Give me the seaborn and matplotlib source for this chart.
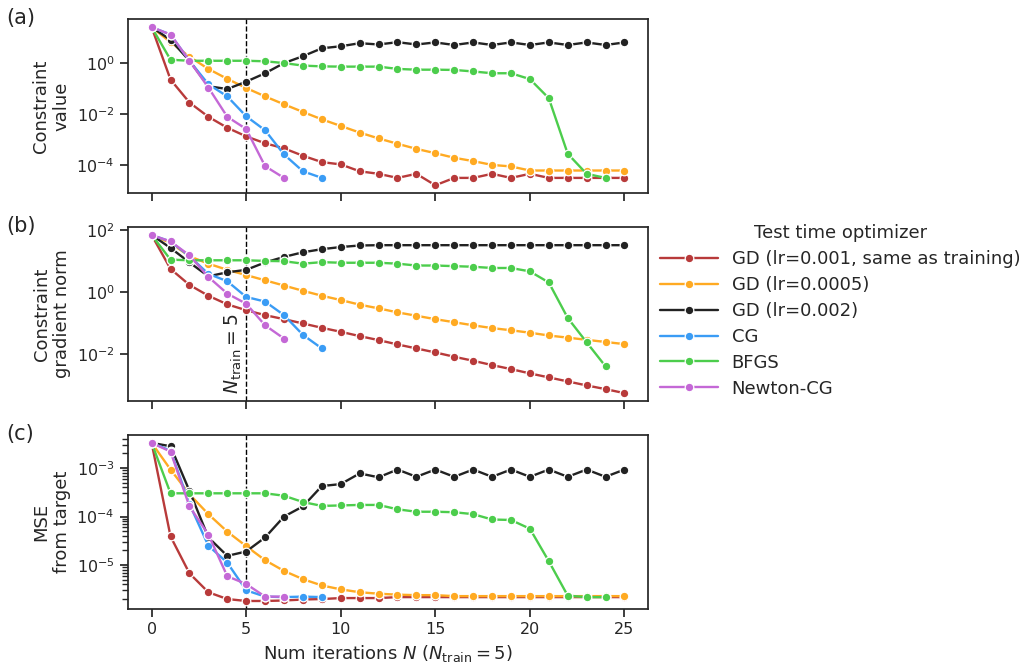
import numpy as np
import pandas as pd
import matplotlib
matplotlib.use("Agg")
import matplotlib.pyplot as plt
import seaborn as sns

# ---------------- data (log10 of values) ----------------
optimizers = ["GD (lr=0.001, same as training)", "GD (lr=0.0005)", "GD (lr=0.002)",
              "CG", "BFGS", "Newton-CG"]
colors = ["#b83a3a", "#ffaa22", "#222222", "#3a9cf5", "#4ccd4c", "#c468d6"]

# panel (a): constraint value
a_gd001 = [1.42, -0.64, -1.54, -2.10, -2.53, -2.87, -3.14, -3.34, -3.63, -3.88, -3.97, -4.24, -4.34,
           -4.50, -4.34, -4.79, -4.50, -4.50, -4.34, -4.50, -4.34, -4.50, -4.50, -4.50, -4.50, -4.50]
a_gd0005 = [1.42, 0.83, 0.26, -0.22, -0.61, -0.97, -1.30, -1.61, -1.91, -2.20, -2.46, -2.72, -2.95,
            -3.16, -3.36, -3.53, -3.71, -3.84, -3.99, -4.05, -4.21, -4.21, -4.21, -4.21, -4.21, -4.21]
a_gd002 = [1.42, 0.92, 0.10, -0.90, -1.01, -0.72, -0.39, 0.01, 0.28, 0.59, 0.67, 0.79, 0.74,
           0.83, 0.74, 0.82, 0.72, 0.82, 0.72, 0.82, 0.72, 0.82, 0.72, 0.82, 0.72, 0.82]
a_cg = [1.42, 1.13, 0.10, -0.82, -1.30, -2.08, -2.63, -3.58, -4.24, -4.50]
a_bfgs = [1.42, 0.14, 0.10, 0.10, 0.10, 0.10, 0.08, 0.01, -0.09, -0.12, -0.13, -0.13, -0.13,
          -0.22, -0.25, -0.25, -0.26, -0.32, -0.39, -0.39, -0.62, -1.37, -3.55, -4.34, -4.50]
a_ncg = [1.42, 1.13, 0.10, -0.95, -2.10, -2.58, -4.04, -4.50]

# panel (b): constraint gradient norm
b_gd001 = [1.85, 0.75, 0.23, -0.12, -0.40, -0.59, -0.75, -0.88, -1.02, -1.16, -1.29, -1.43, -1.56,
           -1.70, -1.83, -1.96, -2.10, -2.23, -2.37, -2.50, -2.64, -2.77, -2.90, -3.03, -3.15, -3.28]
b_gd0005 = [1.85, 1.59, 1.16, 0.92, 0.72, 0.55, 0.38, 0.21, 0.04, -0.12, -0.26, -0.41, -0.53,
            -0.66, -0.77, -0.88, -0.98, -1.08, -1.17, -1.24, -1.32, -1.41, -1.48, -1.55, -1.62, -1.69]
b_gd002 = [1.85, 1.43, 0.96, 0.51, 0.64, 0.72, 0.96, 1.14, 1.29, 1.39, 1.46, 1.51, 1.52,
           1.52, 1.52, 1.52, 1.52, 1.52, 1.52, 1.52, 1.52, 1.52, 1.52, 1.52, 1.52, 1.52]
b_cg = [1.85, 1.64, 1.16, 0.59, 0.35, -0.16, -0.31, -0.75, -1.39, -1.83]
b_bfgs = [1.85, 1.05, 1.03, 1.03, 1.03, 1.03, 1.01, 1.00, 0.92, 0.97, 0.95, 0.95, 0.95,
          0.92, 0.86, 0.86, 0.84, 0.82, 0.78, 0.78, 0.67, 0.31, -0.84, -1.63, -2.41]
b_ncg = [1.85, 1.64, 1.19, 0.49, -0.05, -0.38, -1.08, -1.51]

# panel (c): MSE from target
c_gd001 = [-2.48, -4.41, -5.17, -5.56, -5.70, -5.74, -5.74, -5.73, -5.71, -5.70, -5.68, -5.68, -5.68,
           -5.66, -5.66, -5.66, -5.66, -5.66, -5.66, -5.66, -5.66, -5.66, -5.66, -5.66, -5.66, -5.66]
c_gd0005 = [-2.48, -3.03, -3.54, -3.95, -4.31, -4.61, -4.90, -5.12, -5.29, -5.42, -5.50, -5.56, -5.59,
            -5.61, -5.62, -5.62, -5.64, -5.64, -5.64, -5.64, -5.64, -5.64, -5.64, -5.64, -5.64, -5.64]
c_gd002 = [-2.48, -2.55, -3.47, -4.43, -4.81, -4.72, -4.43, -4.00, -3.79, -3.37, -3.33, -3.11, -3.19,
           -3.03, -3.18, -3.03, -3.18, -3.03, -3.18, -3.03, -3.18, -3.03, -3.18, -3.03, -3.18, -3.03]
c_cg = [-2.48, -2.64, -3.74, -4.60, -4.95, -5.52, -5.65, -5.66, -5.65, -5.66]
c_bfgs = [-2.48, -3.52, -3.52, -3.52, -3.52, -3.52, -3.52, -3.57, -3.70, -3.78, -3.77, -3.76, -3.76,
          -3.85, -3.90, -3.90, -3.91, -3.95, -4.06, -4.07, -4.25, -4.92, -5.63, -5.66, -5.66]
c_ncg = [-2.48, -2.66, -3.79, -4.37, -5.23, -5.39, -5.65, -5.65]

panels = [
    ("(a)", "Constraint\nvalue", [a_gd001, a_gd0005, a_gd002, a_cg, a_bfgs, a_ncg]),
    ("(b)", "Constraint\ngradient norm", [b_gd001, b_gd0005, b_gd002, b_cg, b_bfgs, b_ncg]),
    ("(c)", "MSE\nfrom target", [c_gd001, c_gd0005, c_gd002, c_cg, c_bfgs, c_ncg]),
]
n_train = 5

# ---------------- plotting ----------------
sns.set_theme(style="ticks")
plt.rcParams["font.family"] = ["DejaVu Sans"]
plt.rcParams["mathtext.fontset"] = "dejavusans"

fig, axes = plt.subplots(3, 1, figsize=(10.19, 6.64), dpi=100, sharex=True)
fig.subplots_adjust(left=0.1256, right=0.636, top=0.971, bottom=0.083, hspace=0.195)

palette = dict(zip(optimizers, colors))
for ax, (tag, ylabel, series) in zip(axes, panels):
    rows = []
    for name, vals in zip(optimizers, series):
        for i, v in enumerate(vals):
            rows.append({"N": i, "value": 10.0 ** v, "opt": name})
    df = pd.DataFrame(rows)
    sns.lineplot(data=df, x="N", y="value", hue="opt", hue_order=optimizers,
                 palette=palette, marker="o", markersize=6.2, markeredgecolor="white",
                 markeredgewidth=0.9, linewidth=1.7, ax=ax, legend=True)
    ax.set_yscale("log")
    ax.axvline(n_train, color="black", linestyle="--", linewidth=1.0, zorder=0)
    ax.set_ylabel(ylabel, fontsize=13)
    ax.set_xlabel("")
    ax.tick_params(labelsize=11.5)
    ax.text(-0.235, 1.065, tag, transform=ax.transAxes, fontsize=15, va="top", ha="left")

handles, labels = axes[0].get_legend_handles_labels()
for ax in axes:
    ax.get_legend().remove()

axes[1].text(n_train - 0.1, 0.04, r"$N_{\mathrm{train}} = 5$", rotation=90,
             transform=axes[1].get_xaxis_transform(), ha="right", va="bottom", fontsize=13.5)

axes[2].set_xlabel(r"Num iterations $N$ ($N_{\mathrm{train}} = 5$)", fontsize=13)
axes[2].set_xticks([0, 5, 10, 15, 20, 25])

fig.legend(handles, labels, title="Test time optimizer", loc="upper left",
           bbox_to_anchor=(0.632, 0.687), frameon=False, fontsize=13, title_fontsize=13,
           handlelength=3.2, handletextpad=0.75, labelspacing=0.44)

fig.savefig("out.png", dpi=100)
